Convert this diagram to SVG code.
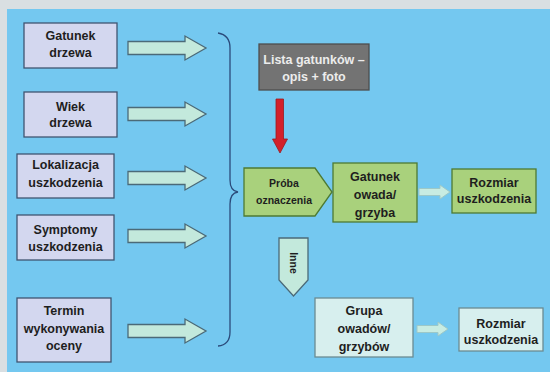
<svg xmlns="http://www.w3.org/2000/svg" width="550" height="372" viewBox="0 0 550 372">
<defs>
<style>
text{font-family:"Liberation Sans",Arial,sans-serif;font-weight:bold;text-anchor:middle;fill:#1e1e1e}
.t{font-size:12.5px}
.s{font-size:10.5px}
.lbox{fill:#d3d7ef;stroke:#3f5571;stroke-width:1.3}
.gbox{fill:#a9d17c;stroke:#4d7a33;stroke-width:1.3}
.dbox{fill:#737373;stroke:#4e4e4e;stroke-width:1.3}
.pbox{fill:#d7efee;stroke:#6b8b92;stroke-width:1.3}
.barrow{fill:#c3e9dc;stroke:#4b6a78;stroke-width:1.3}
.sarrow{fill:#c8ece2;stroke:#9cc8c8;stroke-width:1}
.w{fill:#ececec}
</style>
</defs>
<rect x="0" y="0" width="550" height="372" fill="#d9dfe2"/>
<rect x="7" y="9" width="543" height="363" fill="#74c8f0"/>

<g id="connectors">
<path class="barrow" d="M128,41.5 H185 V36 L206,48 L185,60 V54.5 H128 Z"/>
<path class="barrow" d="M128,107.5 H185 V102 L206,114 L185,126 V120.5 H128 Z"/>
<path class="barrow" d="M128,171.5 H185 V166 L206,178 L185,190 V184.5 H128 Z"/>
<path class="barrow" d="M128,229.5 H185 V224 L206,236 L185,248 V242.5 H128 Z"/>
<path class="barrow" d="M128,324.5 H185 V319 L206,331 L185,343 V337.5 H128 Z"/>
<path d="M218,33 Q230,35 230,48 V180 Q230,191 238,192 Q230,193 230,204 V332 Q230,345 218,346" fill="none" stroke="#2b4b7b" stroke-width="1.3"/>
<path d="M276,99 H283.5 V139 H287.5 L280,153 L272.5,139 H276 Z" fill="#d3202a" stroke="#9a1a20" stroke-width="0.8"/>
<path class="sarrow" d="M419,188.5 H440 V185 L450,192 L440,199 V195.5 H419 Z"/>
<path class="sarrow" d="M417,325.5 H438 V322 L448,329 L438,336 V332.5 H417 Z"/>
<g id="inne">
<path class="barrow" d="M279,238 H308 V280 L293.5,296 L279,280 Z"/>
<text class="s" transform="translate(289.5,263) rotate(90)">Inne</text>
</g>
</g>

<g id="gatunek-drzewa">
<rect class="lbox" x="24" y="23" width="93" height="45"/>
<text class="t" x="70.5" y="39.5">Gatunek</text>
<text class="t" x="70.5" y="57">drzewa</text>
</g>
<g id="wiek-drzewa">
<rect class="lbox" x="24" y="92" width="93" height="45"/>
<text class="t" x="70.5" y="110.5">Wiek</text>
<text class="t" x="70.5" y="127">drzewa</text>
</g>
<g id="lokalizacja">
<rect class="lbox" x="17" y="154" width="97" height="44"/>
<text class="t" x="65.5" y="168.5">Lokalizacja</text>
<text class="t" x="65.5" y="186.5">uszkodzenia</text>
</g>
<g id="symptomy">
<rect class="lbox" x="17" y="215" width="97" height="45"/>
<text class="t" x="65.5" y="233.5">Symptomy</text>
<text class="t" x="65.5" y="250.5">uszkodzenia</text>
</g>
<g id="termin">
<rect class="lbox" x="17" y="298" width="94" height="64"/>
<text class="t" x="64" y="314.5">Termin</text>
<text class="t" x="64" y="332.5">wykonywania</text>
<text class="t" x="64" y="349.5">oceny</text>
</g>
<g id="lista">
<rect class="dbox" x="259" y="44" width="110" height="46"/>
<text class="t w" x="314" y="63.5">Lista gatunków –</text>
<text class="t w" x="314" y="80.5">opis + foto</text>
</g>
<g id="proba">
<path class="gbox" d="M244,168 H315 L332,192 L315,216 H244 Z"/>
<text class="s" x="284" y="187">Próba</text>
<text class="s" x="284" y="204">oznaczenia</text>
</g>
<g id="gatunek-owada">
<rect class="gbox" x="333" y="163" width="84" height="59"/>
<text class="t" x="375" y="180.5">Gatunek</text>
<text class="t" x="375" y="198.5">owada/</text>
<text class="t" x="375" y="216.5">grzyba</text>
</g>
<g id="rozmiar1">
<rect class="gbox" x="452" y="169" width="84" height="44"/>
<text class="t" x="494" y="186.5">Rozmiar</text>
<text class="t" x="494" y="202.5">uszkodzenia</text>
</g>
<g id="grupa">
<rect class="pbox" x="315" y="298" width="98" height="59"/>
<text class="t" x="364" y="314.5">Grupa</text>
<text class="t" x="364" y="332.5">owadów/</text>
<text class="t" x="364" y="351">grzybów</text>
</g>
<g id="rozmiar2">
<rect class="pbox" x="459" y="308" width="84" height="43"/>
<text class="t" x="501" y="327.5">Rozmiar</text>
<text class="t" x="501" y="343.5">uszkodzenia</text>
</g>
</svg>
